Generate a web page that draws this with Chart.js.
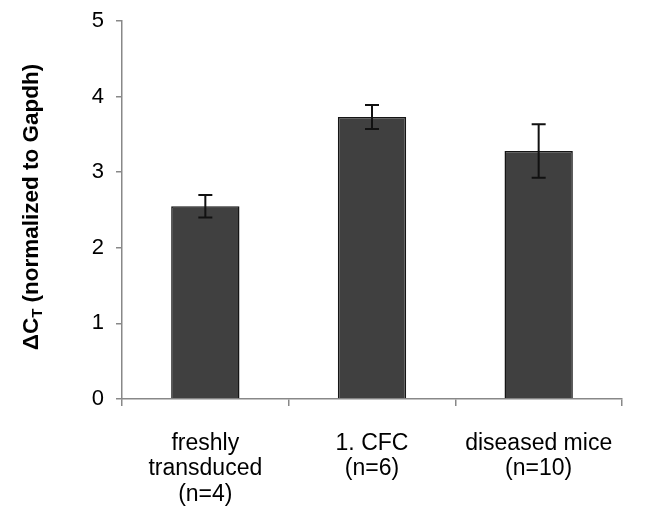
<!DOCTYPE html>
<html>
<head>
<meta charset="utf-8">
<script src="https://cdn.jsdelivr.net/npm/chart.js@4"></script>
<style>
  html, body { margin: 0; padding: 0; background: #fff; }
  #wrap { width: 648px; height: 513px; }
</style>
</head>
<body>
<div id="wrap"><canvas id="myChart" width="648" height="513"></canvas></div>
<script>
const categories = [
    ['freshly', 'transduced', '(n=4)'],
    ['1. CFC', '(n=6)'],
    ['diseased mice', '(n=10)']
];
const deltaCt = [2.55, 3.73, 3.28];
const errors = [0.15, 0.16, 0.355];
const yTicks = [0, 1, 2, 3, 4, 5];

const fontFamily = '"Liberation Sans", Arial, sans-serif';

// draws the error bars on top of each bar
const errorBars = {
    id: 'errorBars',
    afterDatasetsDraw(chart) {
        const ctx = chart.ctx;
        const y = chart.scales.y;
        const meta = chart.getDatasetMeta(0);
        ctx.save();
        ctx.strokeStyle = '#111';
        ctx.lineWidth = 2;
        meta.data.forEach((bar, i) => {
            const x = bar.x;
            const top = y.getPixelForValue(deltaCt[i] + errors[i]);
            const bottom = y.getPixelForValue(deltaCt[i] - errors[i]);
            ctx.beginPath();
            ctx.moveTo(x, top);
            ctx.lineTo(x, bottom);
            ctx.moveTo(x - 7, top);
            ctx.lineTo(x + 7, top);
            ctx.moveTo(x - 7, bottom);
            ctx.lineTo(x + 7, bottom);
            ctx.stroke();
        });
        ctx.restore();
    }
};

// y axis title with subscript T
const yTitle = {
    id: 'yTitle',
    afterDraw(chart) {
        const ctx = chart.ctx;
        const area = chart.chartArea;
        ctx.save();
        ctx.translate(32, (area.top + area.bottom) / 2 - 3);
        ctx.rotate(-Math.PI / 2);
        ctx.fillStyle = '#000';
        ctx.textBaseline = 'middle';
        const big = 'bold 22.5px ' + fontFamily;
        const small = 'bold 15px ' + fontFamily;
        const parts = [['ΔC', big, 0], ['T', small, 6], [' (normalized to Gapdh)', big, 0]];
        let total = 0;
        parts.forEach(p => { ctx.font = p[1]; total += ctx.measureText(p[0]).width; });
        let x = -total / 2;
        parts.forEach(p => {
            ctx.font = p[1];
            ctx.fillText(p[0], x, p[2]);
            x += ctx.measureText(p[0]).width;
        });
        ctx.restore();
    }
};

const data = {
    labels: categories,
    datasets: [{
        data: deltaCt,
        backgroundColor: '#404040',
        borderColor: '#151515',
        borderWidth: 1.5,
        barPercentage: 0.41,
        categoryPercentage: 1.0
    }]
};

const config = {
    type: 'bar',
    data,
    options: {
        responsive: false,
        animation: false,
        layout: { padding: { top: 21, right: 26, left: 0, bottom: 0 } },
        plugins: {
            legend: { display: false },
            tooltip: { enabled: false }
        },
        scales: {
            y: {
                min: 0,
                max: 5,
                afterBuildTicks(scale) {
                    scale.ticks = yTicks.map(v => ({ value: v }));
                },
                afterFit(scale) {
                    scale.width = 122;
                    scale.paddingTop = 0;
                    scale.paddingBottom = 0;
                },
                border: { color: '#888', width: 1.5 },
                grid: { drawOnChartArea: false, color: '#888', tickLength: 6, lineWidth: 1.5 },
                ticks: {
                    color: '#000',
                    padding: 12,
                    font: { family: fontFamily, size: 22 }
                }
            },
            x: {
                afterFit(scale) {
                    scale.height = 114;
                    scale.paddingLeft = 0;
                    scale.paddingRight = 0;
                },
                border: { color: '#888', width: 1.5 },
                grid: { drawOnChartArea: false, offset: true, color: '#888', tickLength: 7, lineWidth: 1.5 },
                ticks: {
                    color: '#000',
                    padding: 25,
                    maxRotation: 0,
                    font: { family: fontFamily, size: 23, lineHeight: 1.1 }
                }
            }
        }
    },
    plugins: [errorBars, yTitle]
};

const myChart = new Chart(document.getElementById('myChart'), config);
</script>
</body>
</html>
